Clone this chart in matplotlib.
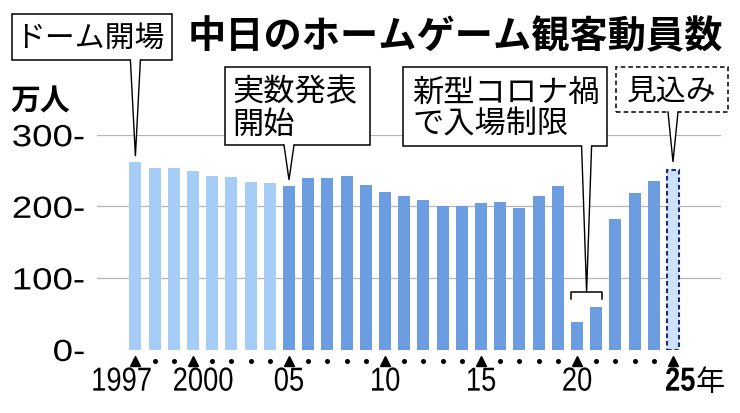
import matplotlib
matplotlib.use("Agg")
import matplotlib.pyplot as plt
import matplotlib.patheffects as pe
from matplotlib.patches import Rectangle, Polygon
from matplotlib.transforms import Affine2D

# ---------------- data ----------------
years = list(range(1997, 2026))
attendance = [262, 254, 254, 249, 243, 241, 234, 233, 229, 240, 239, 243, 230,
              220, 215, 209, 200, 200, 205, 206, 198, 215, 229, 38, 59, 182,
              219, 235, 251]                      # 万人
announce_year = 2005                               # 実数発表開始
forecast_year = 2025                               # 見込み
covid_years = [2020, 2021]
tick_years = [1997, 2000, 2005, 2010, 2015, 2020, 2025]
tick_labels = ["1997", "2000", "05", "10", "15", "20", "25"]
year_suffix = "年"
y_ticks = [0, 100, 200, 300]
y_tick_labels = ["0-", "100-", "200-", "300-"]

title = "中日のホームゲーム観客動員数"
unit = "万人"
note_dome = "ドーム開場"
note_announce = ["実数発表", "開始"]
note_covid = ["新型コロナ禍", "で入場制限"]
note_forecast = "見込み"

# ---------------- fonts ----------------
CJK = "Noto Sans CJK JP"
NUM = ["Liberation Sans", CJK]
plt.rcParams["font.family"] = [CJK, "DejaVu Sans"]


class StretchX(pe.AbstractPathEffect):
    """Draw glyphs horizontally stretched/condensed about an ink anchor."""

    def __init__(self, sx, anchor="center"):
        super().__init__()
        self.sx = sx
        self.anchor = anchor

    def draw_path(self, renderer, gc, tpath, affine, rgbFace=None):
        ext = tpath.get_extents(affine)
        if self.anchor == "right":
            cx = ext.x1
        elif self.anchor == "left":
            cx = ext.x0
        else:
            cx = 0.5 * (ext.x0 + ext.x1)
        aff = affine + Affine2D().translate(-cx, 0).scale(self.sx, 1).translate(cx, 0)
        renderer.draw_path(gc, tpath, aff, rgbFace)


# ---------------- colours ----------------
c_early = "#a6cdf5"
c_main = "#6b9de0"
c_fc_fill = "#cde2f8"
c_fc_edge = "#1c2c80"
c_grid = "#b5b5b5"

W, H = 740, 414
fig = plt.figure(figsize=(W / 100, H / 100), dpi=100)
ax = fig.add_axes([97 / W, (H - 350.5) / H, 624 / W, 214.8 / H])
ax.set_xlim(1995.0, 2027.5)
ax.set_ylim(0, 300)
for s in ax.spines.values():
    s.set_visible(False)


def P(px, py):
    """reference pixel (from top-left) -> data coordinates"""
    return ax.transData.inverted().transform((px, H - py))


# gridlines
for yv in y_ticks[1:]:
    ax.axhline(yv, color=c_grid, lw=0.9, zorder=1)

# bars
obs_years = [y for y in years if y != forecast_year]
obs_vals = [v for y, v in zip(years, attendance) if y != forecast_year]
bar_colors = [c_early if y < announce_year else c_main for y in obs_years]
BW = 0.625
ax.bar(obs_years, obs_vals, width=BW, color=bar_colors, zorder=2)
fc_val = attendance[years.index(forecast_year)]
ax.bar([forecast_year], [fc_val], width=BW, color=c_fc_fill, edgecolor=c_fc_edge,
       linewidth=1.5, linestyle=(0, (2.2, 1.4)), zorder=2)

# y axis labels
ax.set_yticks(y_ticks, y_tick_labels)
ax.tick_params(axis="y", length=0, pad=8.5, labelsize=22)
for t in ax.get_yticklabels():
    t.set_fontfamily(NUM)
    t.set_path_effects([StretchX(1.2, "right")])
ax.set_xticks([])

# x markers
tr = ax.get_xaxis_transform()
ax.plot(tick_years, [-0.054] * len(tick_years), ls="none", marker="^", ms=7,
        color="black", transform=tr, clip_on=False)
dot_years = [y for y in years if y not in tick_years]
ax.plot(dot_years, [-0.054] * len(dot_years), ls="none", marker="o", ms=2.6,
        color="black", transform=tr, clip_on=False)

label_shift = {1997: -0.72, 2000: 0.52, 2025: 0.38}
for y, lab in zip(tick_years, tick_labels):
    bold = (y == forecast_year)
    ax.text(y + label_shift.get(y, 0.0), -0.152, lab, transform=tr, ha="center",
            va="center", fontsize=24, fontweight="bold" if bold else "normal",
            family=NUM, path_effects=[StretchX(0.82, "center")])
ax.text(forecast_year + 1.2, -0.152, year_suffix, transform=tr, ha="left",
        va="center", fontsize=21, family=[CJK])

# title & unit
fig.text(188 / W, 1 - 37 / H, title, ha="left", va="center", fontsize=27.5,
         fontweight="bold")
fig.text(10 / W, 1 - 102 / H, unit, ha="left", va="center", fontsize=21.5,
         fontweight="bold")


# callouts
def callout(bx0, by0, bx1, by1, tip, dashed=False, hw_px=5):
    (x0, y0), (x1, y1) = P(bx0, by0), P(bx1, by1)
    rect = Rectangle((x0, y1), x1 - x0, y0 - y1, facecolor="white",
                     edgecolor="black", lw=1.1,
                     linestyle=(0, (3, 2)) if dashed else "-",
                     zorder=6, clip_on=False)
    ax.add_patch(rect)
    tx, ty = tip
    hw = hw_px / 19.2
    eps = 1.5 / 0.716
    tri = Polygon([(tx - hw, y1 + eps), (tx + hw, y1 + eps), (tx, ty)],
                  closed=True, facecolor="white", edgecolor="none", zorder=7,
                  clip_on=False)
    ax.add_patch(tri)
    ax.plot([tx - hw, tx, tx + hw], [y1, ty, y1], color="black", lw=1.0,
            zorder=8, clip_on=False, solid_joinstyle="miter")


gap = 8
v97 = attendance[years.index(1997)]
callout(12, 15, 172, 61, (1997, v97 + gap))
ax.text(*P(90, 38), note_dome, ha="center", va="center", fontsize=21.5, zorder=9)

v05 = attendance[years.index(announce_year)]
callout(225, 68, 370, 146, (announce_year, v05 + gap))
ax.text(*P(232, 92), note_announce[0], ha="left", va="center", fontsize=22.5, zorder=9)
ax.text(*P(232, 125), note_announce[1], ha="left", va="center", fontsize=22.5, zorder=9)

# covid bracket
cv = [attendance[years.index(y)] for y in covid_years]
bx_l = covid_years[0] - BW / 2
bx_r = covid_years[-1] + BW / 2
b_top = max(cv) + 21
ax.plot([bx_l, bx_l, bx_r, bx_r], [b_top - 10, b_top, b_top, b_top - 10],
        color="black", lw=1.1, zorder=5, clip_on=False)
callout(403, 68, 607, 147, (sum(covid_years) / 2, b_top))
ax.text(*P(412, 93), note_covid[0], ha="left", va="center", fontsize=22.5, zorder=9)
ax.text(*P(412, 125), note_covid[1], ha="left", va="center", fontsize=22.5, zorder=9)

callout(616, 68, 728, 113, (forecast_year, fc_val + 11), dashed=True)
ax.text(*P(672, 91), note_forecast, ha="center", va="center", fontsize=21.5, zorder=9)

fig.savefig("out.png", dpi=100)
